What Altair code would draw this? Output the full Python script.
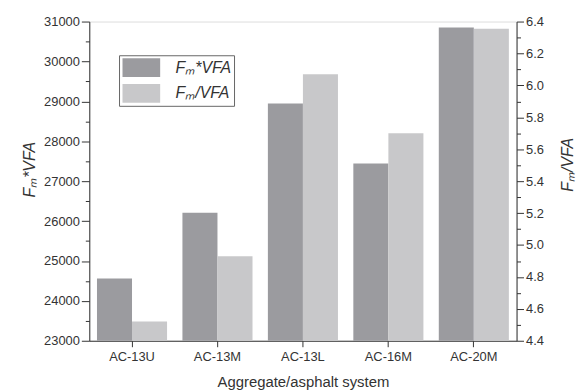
import altair as alt
import pandas as pd

categories = ["AC-13U", "AC-13M", "AC-13L", "AC-16M", "AC-20M"]
fm_times_vfa = [24560, 26210, 28945, 27440, 30850]
fm_div_vfa = [4.52, 4.93, 6.07, 5.70, 6.355]
series = ["Fₘ*VFA", "Fₘ/VFA"]
colors = ["#9b9b9f", "#c8c8ca"]
left_domain = [23000, 31000]
right_domain = [4.4, 6.4]

df1 = pd.DataFrame({"cat": categories, "val": fm_times_vfa, "series": series[0]})
df2 = pd.DataFrame({"cat": categories, "val": fm_div_vfa, "series": series[1]})

FONT = "Liberation Sans"

xscale = alt.Scale(domain=categories, paddingInner=0.18, paddingOuter=0.09)
xoff = alt.XOffset("series:N", scale=alt.Scale(domain=series, paddingInner=0, paddingOuter=0))
color = alt.Color(
    "series:N",
    scale=alt.Scale(domain=series, range=colors),
    legend=alt.Legend(
        title=None,
        orient="none",
        legendX=30,
        legendY=34,
        symbolType="M-2,-1H2V1H-2Z",
        symbolSize=361,
        symbolOffset=10,
        symbolStrokeWidth=0,
        symbolOpacity=1,
        labelFont=FONT,
        labelFontSize=16,
        labelFontStyle="italic",
        labelColor="#333333",
        labelOffset=25,
        rowPadding=7,
        padding=3,
        strokeColor="#666666",
        fillColor="white",
    ),
)

xaxis = alt.Axis(
    title="Aggregate/asphalt system",
    titleFont=FONT,
    titleFontSize=15,
    titleFontWeight="normal",
    titleColor="#333333",
    titlePadding=11,
    labelFont=FONT,
    labelFontSize=13,
    labelColor="#333333",
    labelAngle=0,
    labelPadding=4,
    tickSize=6,
    tickColor="#333333",
    domainColor="#333333",
)

left = alt.Chart(df1).mark_bar(opacity=1).encode(
    x=alt.X("cat:N", scale=xscale, axis=xaxis, sort=categories),
    xOffset=xoff,
    y=alt.Y(
        "val:Q",
        scale=alt.Scale(domain=left_domain, zero=False, nice=False),
        axis=alt.Axis(
            title="Fₘ*VFA",
            titleY=149,
            values=list(range(23000, 31001, 500)),
            labelExpr="datum.value % 1000 === 0 ? datum.label : ''",
            format="d",
            tickSize={"condition": {"test": "datum.value % 1000 === 0", "value": 8}, "value": 4},
            tickColor="#333333",
            domainColor="#333333",
            labelFont=FONT,
            labelFontSize=13,
            labelColor="#333333",
            labelPadding=2,
            titleFont=FONT,
            titleFontSize=16,
            titleFontStyle="italic",
            titleFontWeight="normal",
            titleColor="#333333",
            titlePadding=6,
            grid=False,
        ),
    ),
    y2=alt.datum(left_domain[0]),
    color=color,
)

right = alt.Chart(df2).mark_bar(opacity=1).encode(
    x=alt.X("cat:N", scale=xscale, axis=xaxis, sort=categories),
    xOffset=xoff,
    y=alt.Y(
        "val:Q",
        scale=alt.Scale(domain=right_domain, zero=False, nice=False),
        axis=alt.Axis(
            orient="right",
            title="Fₘ/VFA",
            titleAngle=270,
            titleY=144,
            values=[round(4.4 + 0.1 * i, 1) for i in range(21)],
            labelExpr="(round(datum.value * 10) % 2 === 0) ? format(datum.value, '.1f') : ''",
            tickSize={"condition": {"test": "round(datum.value * 10) % 2 === 0", "value": 7}, "value": 4},
            tickColor="#333333",
            domainColor="#333333",
            labelFont=FONT,
            labelFontSize=13,
            labelColor="#333333",
            labelPadding=2,
            titleFont=FONT,
            titleFontSize=16,
            titleFontStyle="italic",
            titleFontWeight="normal",
            titleColor="#333333",
            titlePadding=32,
            grid=False,
        ),
    ),
    y2=alt.datum(right_domain[0]),
    color=color,
)

chart = (
    alt.layer(left, right)
    .resolve_scale(y="independent")
    .properties(
        width=431,
        height=322,
        autosize=alt.AutoSizeParams(type="none"),
        padding={"left": 82, "top": 12, "right": 64, "bottom": 50},
    )
    .configure_view(stroke="#333333", strokeWidth=1)
    .configure_legend(strokeColor="#666666", strokeWidth=1)
    .configure(background="white")
)

chart.save("out.html", embed_options={"renderer": "svg", "actions": False})
